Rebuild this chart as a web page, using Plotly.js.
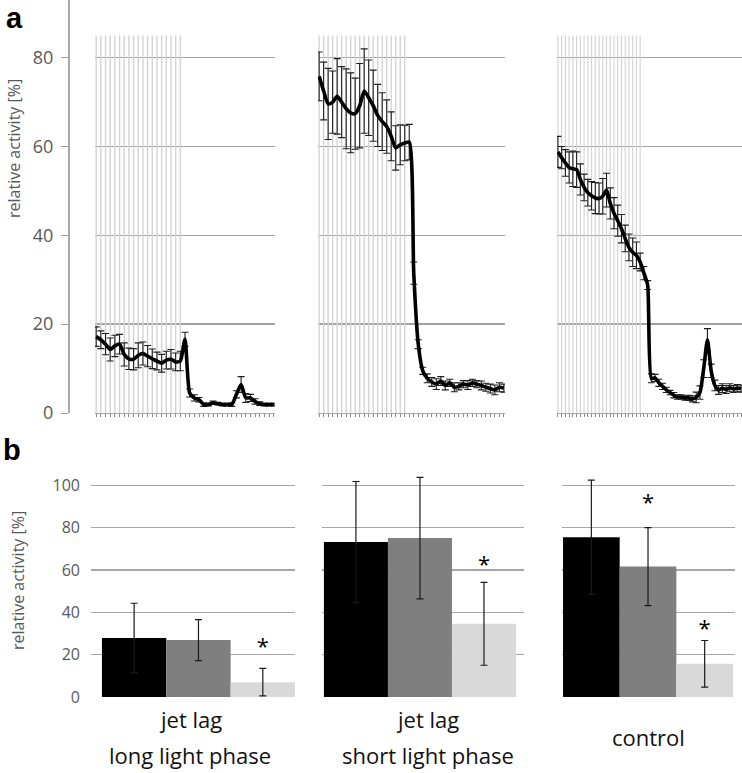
<!DOCTYPE html>
<html>
<head>
<meta charset="utf-8">
<script src="https://cdn.plot.ly/plotly-3.0.1.min.js"></script>
<style>
  html, body { margin: 0; padding: 0; background: #fff; }
  #chart { width: 742px; height: 773px; }
</style>
</head>
<body>
<div id="chart"></div>
<script>
// Panel a: relative activity per time bin (mean and error), plus the light phase bins
var longActivity = [17.2,16.5,15.5,14.3,15.1,15.5,13.2,12.2,12.1,13.0,
                    13.4,12.8,12.2,11.7,11.2,11.9,12.1,11.5,11.7,16.6,
                    4.5,3.4,3.0,1.9,1.9,2.3,2.1,1.9,1.9,1.9,
                    4.2,6.4,3.4,3.4,2.6,2.1,1.9,1.9,1.9];
var longError = [2.2,2.0,2.4,2.6,2.4,2.2,2.6,2.4,2.4,2.8,
                 2.6,2.4,2.2,2.0,2.0,2.0,2.2,2.0,2.2,1.6,
                 0.9,0.7,0.5,0.4,0.3,0.4,0.3,0.3,0.3,0.4,
                 0.8,1.8,1.0,0.8,0.6,0.4,0.3,0.3,0.3];
var longLight = [85,85,85,85,85,85,85,85,85,85,85,85,85,85,85,85,85,85,85];

var shortActivity = [75.8,72.5,69.6,70.0,71.3,70.0,68.5,67.6,67.4,69.2,
                     72.5,71.0,69.2,67.0,65.6,64.5,62.3,59.7,60.4,60.8,
                     61.0,31.5,15.5,9.5,7.8,7.0,6.5,7.2,6.2,6.8,
                     5.8,6.0,6.5,6.3,6.8,6.5,6.2,5.8,5.5,5.2,
                     5.8,5.6];
var shortError = [5.5,6.5,8.0,7.0,8.5,8.0,9.0,9.0,8.0,9.5,
                  9.5,8.5,8.0,7.0,6.5,6.0,5.5,5.0,4.5,4.0,
                  4.0,2.5,1.0,0.8,1.0,1.0,1.2,1.0,1.0,0.8,
                  1.0,0.8,0.8,1.0,0.8,0.8,1.0,0.9,1.0,1.1,
                  1.0,0.9];
var shortLight = [85,85,85,85,85,85,85,85,85,85,85,85,85,85,85,85,85,85,85,85];

var controlActivity = [58.8,57.5,56.3,55.3,55.0,54.8,52.6,50.8,49.6,48.9,
                       48.4,48.3,48.8,50.2,47.2,45.0,43.3,41.5,39.3,37.3,
                       36.2,35.5,34.0,31.5,28.8,7.8,7.9,6.8,6.0,5.2,
                       4.6,4.0,3.6,3.6,3.4,3.4,3.2,3.5,4.6,10.0,
                       16.5,9.5,6.2,5.2,5.6,5.3,5.7,5.4,5.6,5.5];
var controlError = [3.5,2.5,3.0,3.5,4.0,4.0,3.5,3.0,3.0,3.2,
                    3.5,3.5,4.0,3.8,3.5,3.5,3.5,3.2,3.0,3.0,
                    3.2,3.0,2.0,1.5,1.0,1.0,0.8,0.8,0.7,0.6,
                    0.5,0.6,0.5,0.5,0.5,0.6,0.7,1.2,1.5,2.0,
                    2.5,1.5,1.2,1.0,1.0,0.9,0.9,0.8,0.8,0.8];
var controlLight = [85,85,85,85,85,85,85,85,85,85,85,85,85,85,85,85,85,85,85,85,85,85,85];

var activityTicks = [0, 20, 40, 60, 80];

// Panel b: mean relative activity of the three bars in each group
var barIndex = [0, 1, 2];
var longBars = [27.9, 26.9, 7.0];
var longBarsErr = [16.4, 9.7, 6.5];
var shortBars = [73.2, 75.1, 34.6];
var shortBarsErr = [28.6, 28.7, 19.6];
var controlBars = [75.5, 61.6, 15.7];
var controlBarsErr = [27.0, 18.4, 11.0];
var barTicks = [0, 20, 40, 60, 80, 100, 120];
var barTickText = ['0', '20', '40', '60', '80', '100', ''];

// significance stars (bar index, height)
var longStarX = [2];
var longStarY = [23];
var shortStarX = [2];
var shortStarY = [61.5];
var controlStarX = [1, 2];
var controlStarY = [91, 31.5];

var groupLabels = [['jet lag', 'long light phase'], ['jet lag', 'short light phase'], ['control']];
var yTitle = 'relative activity [%]';

// helpers: pixel -> paper coords
var W = 742, H = 773;
function fx(px) { return px / W; }
function fy(py) { return 1 - py / H; }
function idx(arr) { return arr.map(function (d, i) { return i; }); }

var textGrey = '#595959';
var font = 'Open Sans, Liberation Sans, sans-serif';
var barColors = ['#000000', '#7f7f7f', '#d9d9d9'];

var data = [];

// Step 1: panel a curves
var curves = [
  { y: longActivity, err: longError, light: longLight, ax: '' },
  { y: shortActivity, err: shortError, light: shortLight, ax: '2' },
  { y: controlActivity, err: controlError, light: controlLight, ax: '3' }
];
curves.forEach(function (c) {
  data.push({
    type: 'bar', x: idx(c.light), y: c.light, width: 0.3,
    marker: { color: '#d3d3d3', line: { width: 0 } },
    xaxis: 'x' + c.ax, yaxis: 'y' + c.ax, hoverinfo: 'skip'
  });
  data.push({
    type: 'scatter', mode: 'lines', x: idx(c.y), y: c.y,
    line: { color: '#000', width: 3.6, shape: 'spline', smoothing: 0.6 },
    error_y: { type: 'data', array: c.err, visible: true, color: '#1e1e1e', thickness: 1.1, width: 3.5 },
    xaxis: 'x' + c.ax, yaxis: 'y' + c.ax
  });
});

// Step 2: panel b bars
var groups = [
  { y: longBars, err: longBarsErr, sx: longStarX, sy: longStarY, ax: '4' },
  { y: shortBars, err: shortBarsErr, sx: shortStarX, sy: shortStarY, ax: '5' },
  { y: controlBars, err: controlBarsErr, sx: controlStarX, sy: controlStarY, ax: '6' }
];
groups.forEach(function (g) {
  data.push({
    type: 'bar', x: barIndex, y: g.y, width: 1,
    marker: { color: barColors, line: { width: 0 } },
    error_y: { type: 'data', array: g.err, visible: true, color: '#1a1a1a', thickness: 1.2, width: 3.5 },
    xaxis: 'x' + g.ax, yaxis: 'y' + g.ax
  });
  data.push({
    type: 'scatter', mode: 'text', x: g.sx, y: g.sy,
    text: g.sx.map(function () { return '*'; }),
    textfont: { family: font, size: 22, color: '#000' },
    textposition: 'middle center', cliponaxis: false,
    xaxis: 'x' + g.ax, yaxis: 'y' + g.ax, hoverinfo: 'skip'
  });
});

// axis templates
function curveX(dom, n) {
  return {
    domain: dom, range: [-0.25, n - 0.75], showgrid: false, zeroline: false,
    showline: true, linecolor: '#a8a8a8', linewidth: 1,
    ticks: 'outside', ticklen: 3, tickcolor: '#8a8a8a', dtick: 1, tick0: 0,
    showticklabels: false, fixedrange: true
  };
}
function barX(dom, r) {
  return {
    domain: dom, range: r, showgrid: false, zeroline: false, showline: false,
    showticklabels: false, ticks: '', fixedrange: true
  };
}
var yA = [fy(413), 1];
var yB = [fy(697), fy(443)];

var layout = {
  width: W, height: H,
  margin: { l: 0, r: 0, t: 0, b: 0 },
  paper_bgcolor: '#fff', plot_bgcolor: 'rgba(0,0,0,0)',
  showlegend: false,
  font: { family: font, color: textGrey },
  xaxis: curveX([fx(95), fx(275)], longActivity.length),
  xaxis2: curveX([fx(318), fx(505)], shortActivity.length),
  xaxis3: curveX([fx(557), 1], controlActivity.length),
  yaxis: {
    domain: yA, range: [0, 93], anchor: 'free', position: fx(68),
    tickvals: activityTicks, ticks: 'outside', ticklen: 7, tickcolor: '#a0a0a0',
    ticklabelstandoff: 4, tickfont: { size: 18, color: textGrey },
    showline: true, linecolor: '#a8a8a8', linewidth: 1.5,
    showgrid: true, gridcolor: '#a3a3a3', gridwidth: 1.4, zeroline: false, fixedrange: true
  },
  yaxis2: {
    domain: yA, range: [0, 93], anchor: 'x2', tickvals: activityTicks, showticklabels: false,
    showgrid: true, gridcolor: '#a3a3a3', gridwidth: 1.4, zeroline: false, fixedrange: true
  },
  yaxis3: {
    domain: yA, range: [0, 93], anchor: 'x3', tickvals: activityTicks, showticklabels: false,
    showgrid: true, gridcolor: '#a3a3a3', gridwidth: 1.4, zeroline: false, fixedrange: true
  },
  xaxis4: barX([fx(91), fx(295)], [-0.67, 2.5]),
  xaxis5: barX([fx(322), fx(524)], [-0.53, 2.625]),
  xaxis6: barX([fx(562), fx(735)], [-0.518, 2.535]),
  yaxis4: {
    domain: yB, range: [0, 120], anchor: 'x4', tickvals: barTicks, ticktext: barTickText,
    ticks: '', ticklabelstandoff: 10, tickfont: { size: 16, color: textGrey },
    showgrid: true, gridcolor: '#a6a6a6', gridwidth: 1.4, zeroline: false, fixedrange: true
  },
  yaxis5: {
    domain: yB, range: [0, 120], anchor: 'x5', tickvals: barTicks, showticklabels: false,
    showgrid: true, gridcolor: '#a6a6a6', gridwidth: 1.4, zeroline: false, fixedrange: true
  },
  yaxis6: {
    domain: yB, range: [0, 120], anchor: 'x6', tickvals: barTicks, showticklabels: false,
    showgrid: true, gridcolor: '#a6a6a6', gridwidth: 1.4, zeroline: false, fixedrange: true
  },
  annotations: []
};

// Step 3: panel letters, y titles and group labels
var ann = layout.annotations;
function note(text, px, py, f, angle, yanchor) {
  ann.push({ text: text, x: fx(px), y: fy(py), xref: 'paper', yref: 'paper', showarrow: false,
    xanchor: 'center', yanchor: yanchor || 'middle', textangle: angle || 0, font: f });
}
var letterFont = { family: 'Liberation Sans, Arial, sans-serif', size: 29, color: '#000' };
note('<b>a</b>', 14, 0, letterFont, 0, 'top');
note('<b>b</b>', 12, 450, letterFont);
note(yTitle, 14, 149, { size: 16, color: textGrey }, -90);
note(yTitle, 18, 581, { size: 16, color: textGrey }, -90);

var labelCenters = [190, 428, 648];
groupLabels.forEach(function (lines, i) {
  var rows = lines.length === 2 ? [719, 755] : [737];
  lines.forEach(function (t, j) {
    note(t, labelCenters[i], rows[j], { size: 22, color: '#111' });
  });
});

Plotly.newPlot('chart', data, layout, { staticPlot: true });
</script>
</body>
</html>
